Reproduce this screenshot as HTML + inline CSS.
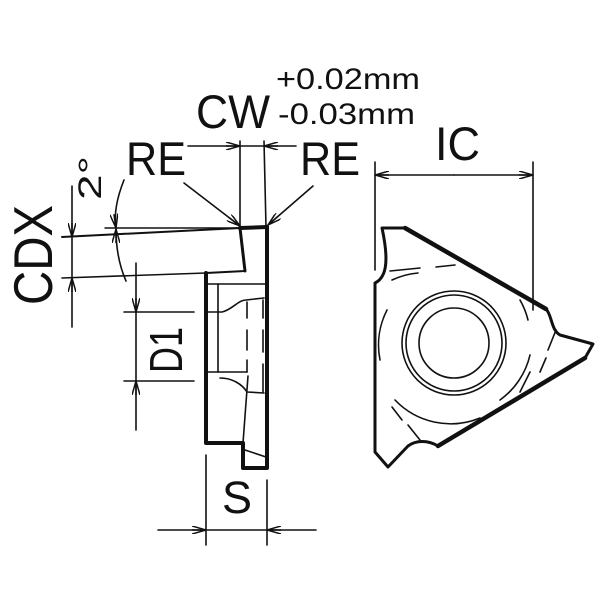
<!DOCTYPE html>
<html><head><style>html,body{margin:0;padding:0;background:#fff}svg{display:block}</style></head>
<body>
<svg width="600" height="600" viewBox="0 0 600 600" xmlns="http://www.w3.org/2000/svg" font-family="Liberation Sans, sans-serif">
<defs>
<marker id="a" viewBox="0 0 14 8" refX="14" refY="4" markerWidth="14" markerHeight="8" markerUnits="userSpaceOnUse" orient="auto"><path d="M0,0 L14,4 L0,8 M0,4 L14,4" fill="none" stroke="#111" stroke-width="1.5"/></marker>
</defs>
<g stroke="#111" fill="none" stroke-linecap="round" stroke-linejoin="round">
<path d="M62,237 L240,228 L267,227 L267,468 L243,468 L243,443 L206,443 L206,273 L245,271 L240,228" stroke-width="2"/>
<path d="M62,278 L206,273" stroke-width="1.6"/>
<path d="M240,228 L245,271" stroke-width="3"/>
<path d="M206,273 L206,443 L243,443 L243,468 L267,468 L267,227" stroke-width="4"/>
<path d="M240,228 L267,227" stroke-width="4"/>
<path d="M105,228 L240,228" stroke-width="1.4"/>
<g stroke-width="1.6">
<path d="M206,284 L267,284"/>
<path d="M218,284 L218,372"/>
<path d="M206,312 L222,312 C232,310 238,300 246,300 L264,298"/>
<path d="M247,302 L247,318 M247,330 L247,350 M247,360 L247,372"/>
<path d="M263,300 L263,318 M263,330 L263,352 M263,364 L263,392"/>
<path d="M206,372 L247,372"/>
<path d="M220,378 C232,378 242,384 247,392 L264,393"/>
<path d="M248,376 L243,443"/>
<path d="M245,450 L266,457"/>
</g>
<g stroke-width="1.6">
<path d="M72,186 L72,237" marker-end="url(#a)"/>
<path d="M72,327 L72,278" marker-end="url(#a)"/>
<path d="M72,237 L72,278"/>
<path d="M124,312 L194,312 M124,381 L194,381"/>
<path d="M136,263 L136,312" marker-end="url(#a)"/>
<path d="M136,430 L136,381" marker-end="url(#a)"/>
<path d="M136,312 L136,381"/>
<path d="M124,180 C116,200 114,215 116,228" marker-end="url(#a)"/>
<path d="M126,281 C119,265 116,248 116,229" marker-end="url(#a)"/>
<path d="M240,141 L240,228 M264,141 L266,227"/>
<path d="M188,146 L240,146" marker-end="url(#a)"/>
<path d="M296,146 L264,146" marker-end="url(#a)"/>
<path d="M240,146 L264,146"/>
<path d="M184,183 L240,226" marker-end="url(#a)"/>
<path d="M313,186 L268,225" marker-end="url(#a)"/>
<path d="M375,162 L375,270 M533,162 L533,310"/>
<path d="M454,175 L375,175" marker-end="url(#a)"/>
<path d="M454,175 L533,175" marker-end="url(#a)"/>
<path d="M206,455 L206,545 M267,480 L267,545"/>
<path d="M158,530 L206,530" marker-end="url(#a)"/>
<path d="M316,530 L267,530" marker-end="url(#a)"/>
<path d="M206,530 L267,530"/>
</g>
<path d="M382,228 L405,228 L546,309 C552,315 551,330 560,335 L593,344 L585,358 L438,446 C428,440 416,440 408,446 L388,467 L375,452 L375,283 C385,278 390,265 382,228 Z" stroke-width="3"/>
<path d="M405,228 L546,309 M585,358 L438,446" stroke-width="4.5"/>
<g stroke-width="1.6">
<circle cx="454" cy="343" r="52"/>
<circle cx="454" cy="343" r="48"/>
<circle cx="454" cy="343" r="35"/>
<path d="M392,280 A77,77 0 0 1 418,273"/>
<path d="M387,310 A77,77 0 0 0 380,360"/>
<path d="M395,400 A77,77 0 0 0 480,418"/>
<path d="M500,400 A77,77 0 0 0 530,355"/>
<path d="M528,320 A77,77 0 0 0 520,300"/>
<path d="M390,271 L420,268 M436,267 L455,265"/>
<path d="M556,330 L548,350 M546,358 L540,372 M530,372 L520,392"/>
<path d="M392,407 L402,420 M408,425 L420,440"/>
</g>
</g>
<g fill="#111">
<text x="196" y="128" font-size="47" textLength="74" lengthAdjust="spacingAndGlyphs">CW</text>
<text x="276" y="89" font-size="30" textLength="144" lengthAdjust="spacingAndGlyphs">+0.02mm</text>
<text x="278" y="124" font-size="30" textLength="137" lengthAdjust="spacingAndGlyphs">-0.03mm</text>
<text x="126" y="175" font-size="47" textLength="60" lengthAdjust="spacingAndGlyphs">RE</text>
<text x="300" y="175" font-size="47" textLength="60" lengthAdjust="spacingAndGlyphs">RE</text>
<text x="435" y="160" font-size="47" textLength="45" lengthAdjust="spacingAndGlyphs">IC</text>
<text x="222" y="513" font-size="45" textLength="30" lengthAdjust="spacingAndGlyphs">S</text>
<text transform="translate(52,255) rotate(-90)" x="-50" font-size="55" textLength="100" lengthAdjust="spacingAndGlyphs">CDX</text>
<text transform="translate(182,350) rotate(-90)" x="-23" font-size="46" textLength="46" lengthAdjust="spacingAndGlyphs">D1</text>
<text transform="translate(101,178) rotate(-90)" x="-22" font-size="32" textLength="44" lengthAdjust="spacingAndGlyphs">2°</text>
</g>
</svg>
</body></html>
